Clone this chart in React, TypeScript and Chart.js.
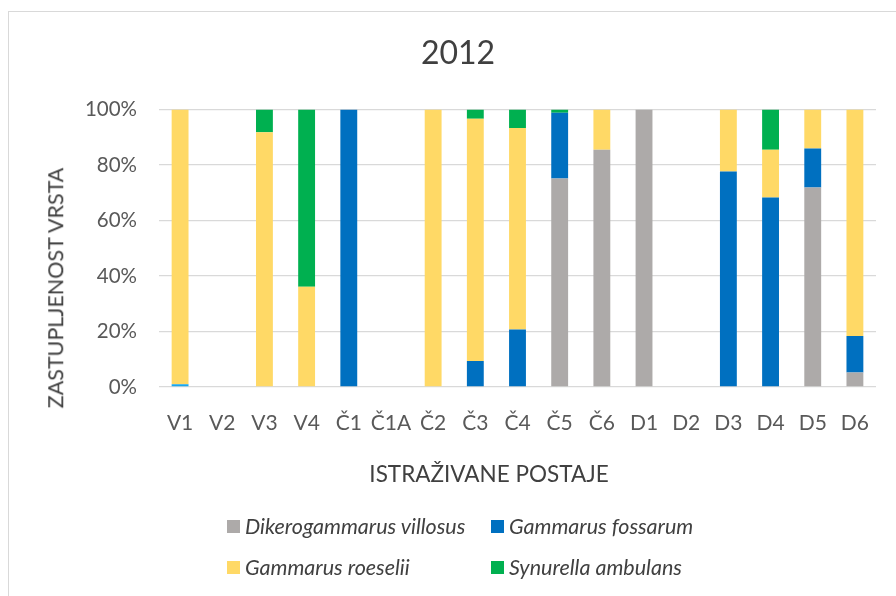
import React, { useEffect, useRef } from "react";
import { Chart, registerables } from "chart.js";

Chart.register(...registerables);

const categories = ["V1", "V2", "V3", "V4", "Č1", "Č1A", "Č2", "Č3", "Č4", "Č5", "Č6", "D1", "D2", "D3", "D4", "D5", "D6"];
const dikerogammarusVillosus = [0, 0, 0, 0, 0, 0, 0, 0, 0, 75.1, 85.5, 100, 0, 0, 0, 71.9, 5.2];
const gammarusFossarum = [1, 0, 0, 0, 100, 0, 0, 9.4, 20.7, 23.7, 0, 0, 0, 77.6, 68.3, 14, 13.2];
const gammarusRoeselii = [99, 0, 91.8, 36.1, 0, 0, 100, 87.2, 72.6, 0, 14.5, 0, 0, 22.4, 17.2, 14.1, 81.6];
const synurellaAmbulans = [0, 0, 8.2, 63.9, 0, 0, 0, 3.4, 6.7, 1.2, 0, 0, 0, 0, 14.5, 0, 0];
const yTicks = [0, 20, 40, 60, 80, 100];

const seriesNames = ["Dikerogammarus villosus", "Gammarus fossarum", "Gammarus roeselii", "Synurella ambulans"];
const COLORS = ["#ADAAA9", "#0070C0", "#FFD966", "#00B050"];
const FONT = "Lato, 'Open Sans', sans-serif";

export default function App() {
  const ref = useRef<HTMLCanvasElement>(null);

  useEffect(() => {
    if (!ref.current) return;
    const fossarumColors = categories.map((_, i) => (i === 0 ? "#1AA7EC" : COLORS[1]));
    const chart = new Chart(ref.current, {
      type: "bar",
      data: {
        labels: categories,
        datasets: [
          { label: seriesNames[0], data: dikerogammarusVillosus, backgroundColor: COLORS[0] },
          { label: seriesNames[1], data: gammarusFossarum, backgroundColor: fossarumColors },
          { label: seriesNames[2], data: gammarusRoeselii, backgroundColor: COLORS[2] },
          { label: seriesNames[3], data: synurellaAmbulans, backgroundColor: COLORS[3] },
        ],
      },
      options: {
        responsive: false,
        animation: false,
        devicePixelRatio: 1,
        layout: { padding: { left: 31, right: 20, top: 0, bottom: 165 } },
        datasets: { bar: { barPercentage: 0.4, categoryPercentage: 1.0, borderWidth: 0 } },
        plugins: {
          legend: { display: false },
          tooltip: { enabled: false },
          title: {
            display: true,
            text: "2012",
            color: "#404040",
            font: { family: FONT, size: 32, weight: "normal" },
            padding: { top: 22, bottom: 37 },
          },
        },
        scales: {
          x: {
            stacked: true,
            grid: { display: false },
            border: { display: false },
            ticks: { color: "#595959", font: { family: FONT, size: 21 }, padding: 16, maxRotation: 0, autoSkip: false },
            afterFit: (s: any) => { s.height = 44; },
          },
          y: {
            stacked: true,
            min: 0,
            max: 100,
            afterBuildTicks: (s: any) => { s.ticks = yTicks.map((v) => ({ value: v })); },
            grid: { color: "#d9d9d9", lineWidth: 1.3, drawTicks: false },
            border: { display: false },
            ticks: {
              color: "#595959",
              font: { family: FONT, size: 20.5 },
              padding: 22,
              callback: (v: any) => `${v}%`,
            },
            afterFit: (s: any) => { s.width = 119; },
          },
        },
      },
    });
    return () => chart.destroy();
  }, []);

  const legendText: React.CSSProperties = {
    position: "absolute",
    fontFamily: FONT,
    fontStyle: "italic",
    fontSize: 21.5,
    color: "#404040",
    whiteSpace: "nowrap",
    transform: "translateY(-50%)",
    lineHeight: 1,
  };
  const box = (color: string, left: number, top: number) => (
    <div style={{ position: "absolute", left, top: top - 6.5, width: 13, height: 13, background: color }} />
  );
  const legendItems = [
    { i: 0, left: 218, y: 514.7 },
    { i: 1, left: 482, y: 514.7 },
    { i: 2, left: 218, y: 555.5 },
    { i: 3, left: 482, y: 555.5 },
  ];

  return (
    <div
      style={{
        position: "absolute",
        left: 8,
        top: 11,
        width: 888,
        height: 585,
        borderLeft: "1px solid #d9d9d9",
        borderTop: "1px solid #d9d9d9",
        boxSizing: "border-box",
        background: "#fff",
        overflow: "hidden",
      }}
    >
      <canvas ref={ref} width={887} height={584} style={{ display: "block", width: 887, height: 584 }} />
      <div
        style={{
          position: "absolute",
          left: 47,
          top: 276,
          transform: "translate(-50%, -50%) rotate(-90deg)",
          fontFamily: FONT,
          fontSize: 21.5,
          color: "#404040",
          whiteSpace: "nowrap",
          lineHeight: 1,
        }}
      >
        ZASTUPLJENOST VRSTA
      </div>
      <div
        style={{
          position: "absolute",
          left: 480,
          top: 462,
          transform: "translate(-50%, -50%)",
          fontFamily: FONT,
          fontSize: 22.5,
          color: "#404040",
          whiteSpace: "nowrap",
          lineHeight: 1,
        }}
      >
        ISTRAŽIVANE POSTAJE
      </div>
      {legendItems.map((it) => (
        <React.Fragment key={it.i}>
          {box(COLORS[it.i], it.left, it.y)}
          <div style={{ ...legendText, left: it.left + 18, top: it.y }}>{seriesNames[it.i]}</div>
        </React.Fragment>
      ))}
    </div>
  );
}
